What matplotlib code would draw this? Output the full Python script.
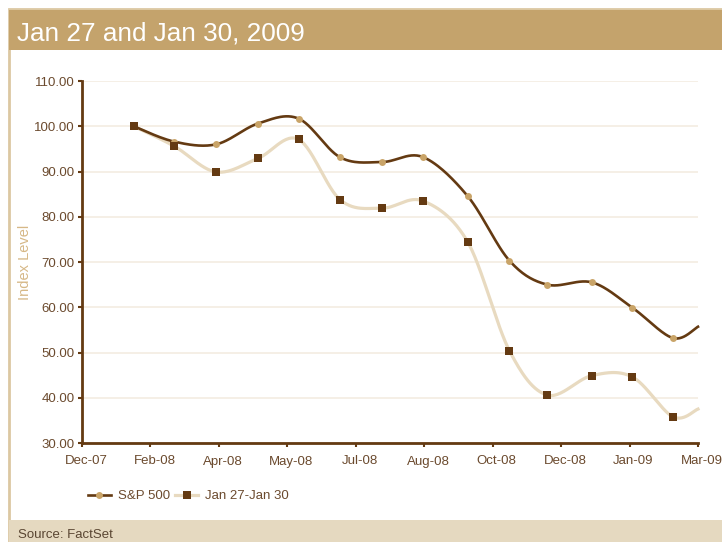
import numpy as np
import matplotlib
matplotlib.use("Agg")
import matplotlib.pyplot as plt
import matplotlib.dates as mdates
import matplotlib.transforms as mtransforms
from matplotlib.lines import Line2D
from matplotlib.patches import Rectangle

plt.rcParams['font.family'] = ['Liberation Sans', 'DejaVu Sans']

title = "Jan 27 and Jan 30, 2009"
source = "Source: FactSet"
y_label = "Index Level"
series_names = ["S&P 500", "Jan 27-Jan 30"]

# monthly observations (last one sits at the right edge, no marker)
dates = ["2008-01-31", "2008-02-29", "2008-03-30", "2008-04-29", "2008-05-28",
         "2008-06-27", "2008-07-27", "2008-08-25", "2008-09-26", "2008-10-26",
         "2008-11-22", "2008-12-24", "2009-01-22", "2009-02-20", "2009-03-10"]
sp500 = [100.0, 96.6, 96.0, 100.6, 101.7, 93.1, 92.1, 93.2, 84.6, 70.3,
         65.0, 65.5, 59.9, 53.2, 55.7]
jan27_30 = [100.0, 95.6, 89.9, 92.9, 97.1, 83.7, 81.9, 83.5, 74.5, 50.4,
            40.6, 44.9, 44.6, 35.8, 37.5]

x_start = np.datetime64("2007-12-25")
tick_step = 49  # days between axis ticks
n_ticks = 10

# colours
tan_bar = "#C4A36C"
beige_bar = "#E5D9C0"
frame_col = "#DCC8A2"
dark_brown = "#643A12"
light_beige = "#E8DAC0"
circle_col = "#C9A468"
label_col = "#6B4A2E"
grid_col = "#F3ECE2"


def smooth_curve(ax, xs, ys, n=30):
    """Excel-like smoothed line: Catmull-Rom bezier computed in screen space."""
    pts = ax.transData.transform(np.column_stack([xs, ys]))
    out = [pts[0]]
    m = len(pts)
    for i in range(m - 1):
        p0 = pts[max(i - 1, 0)]
        p1 = pts[i]
        p2 = pts[i + 1]
        p3 = pts[min(i + 2, m - 1)]
        c1 = p1 + (p2 - p0) / 6.0
        c2 = p2 - (p3 - p1) / 6.0
        t = np.linspace(0, 1, n)[1:, None]
        seg = ((1 - t) ** 3) * p1 + 3 * ((1 - t) ** 2) * t * c1 \
            + 3 * (1 - t) * t ** 2 * c2 + t ** 3 * p2
        out.extend(seg)
    out = np.array(out)
    data = ax.transData.inverted().transform(out)
    return data[:, 0], data[:, 1]


fig = plt.figure(figsize=(7.22, 5.42), dpi=100)
fig.patch.set_facecolor("white")

# frame, title bar, source bar
fig.patches.append(Rectangle((9 / 722, 0), 1.0, 533 / 542, transform=fig.transFigure,
                             facecolor="none", edgecolor=frame_col, linewidth=2, zorder=0))
fig.patches.append(Rectangle((9 / 722, 1 - 50 / 542), 1.0, 40 / 542, transform=fig.transFigure,
                             facecolor=tan_bar, edgecolor="none", zorder=1))
fig.patches.append(Rectangle((9 / 722, 0), 1.0, 22 / 542, transform=fig.transFigure,
                             facecolor=beige_bar, edgecolor="none", zorder=1))
fig.text(17 / 722, 1 - 33 / 542, title, color="white", fontsize=18.8, va="center", ha="left")
fig.text(18 / 722, 1 - 535 / 542, source, color="#5A4632", fontsize=9.5, va="center", ha="left")

ax = fig.add_axes([82 / 722, 1 - 443 / 542, 616 / 722, 362 / 542])
x_end = x_start + np.timedelta64(tick_step * (n_ticks - 1), "D")
ax.set_xlim(mdates.date2num(x_start), mdates.date2num(x_end))
ax.set_ylim(30, 110)

xd = mdates.date2num(np.array(dates, dtype="datetime64[D]"))

ax.set_yticks(np.arange(30, 111, 10))
ax.yaxis.set_major_formatter(plt.FuncFormatter(lambda v, p: f"{v:.2f}"))
ticks = [x_start + np.timedelta64(tick_step * k, "D") for k in range(n_ticks)]
ax.set_xticks(mdates.date2num(np.array(ticks, dtype="datetime64[D]")))
ax.xaxis.set_major_formatter(mdates.DateFormatter("%b-%y"))

ax.grid(axis="y", color=grid_col, linewidth=1.2)
ax.set_axisbelow(True)
for s in ["top", "right"]:
    ax.spines[s].set_visible(False)
for s in ["left", "bottom"]:
    ax.spines[s].set_color(dark_brown)
    ax.spines[s].set_linewidth(2)
ax.tick_params(axis="both", colors=dark_brown, length=3, width=1.5, labelsize=9.5,
               labelcolor=label_col)
ax.tick_params(axis="y", pad=2.5)
ax.tick_params(axis="x", pad=6)
ax.set_ylabel(y_label, color="#D6B887", fontsize=10.5)
ax.yaxis.set_label_coords(-50 / 616, 0.5)

# x labels sit a touch right of their ticks in the original
shift = mtransforms.ScaledTranslation(4 / 100, 0, fig.dpi_scale_trans)
for lab in ax.get_xticklabels():
    lab.set_transform(lab.get_transform() + shift)

fig.canvas.draw()

sx, sy = smooth_curve(ax, xd, sp500)
jx, jy = smooth_curve(ax, xd, jan27_30)
ax.plot(jx, jy, color=light_beige, linewidth=2.3, zorder=2, clip_on=False)
ax.plot(sx, sy, color=dark_brown, linewidth=1.9, zorder=3, clip_on=False)
ax.plot(xd[:-1], sp500[:-1], linestyle="none", marker="o", markersize=5,
        color=circle_col, markeredgewidth=0, zorder=4)
ax.plot(xd[:-1], jan27_30[:-1], linestyle="none", marker="s", markersize=6,
        color=dark_brown, markeredgewidth=0, zorder=5)

handles = [
    Line2D([], [], color=dark_brown, linewidth=1.9, marker="o", markersize=5,
           markerfacecolor=circle_col, markeredgewidth=0),
    Line2D([], [], color=light_beige, linewidth=2.3, marker="s", markersize=6,
           markerfacecolor=dark_brown, markeredgewidth=0),
]
fig.legend(handles, series_names, loc="center left", bbox_to_anchor=(76 / 722, 1 - 496 / 542),
           ncol=2, frameon=False, fontsize=9.5, handlelength=1.75, handletextpad=0.5,
           columnspacing=0.4, labelcolor=label_col)

fig.savefig("out.png", dpi=100)
